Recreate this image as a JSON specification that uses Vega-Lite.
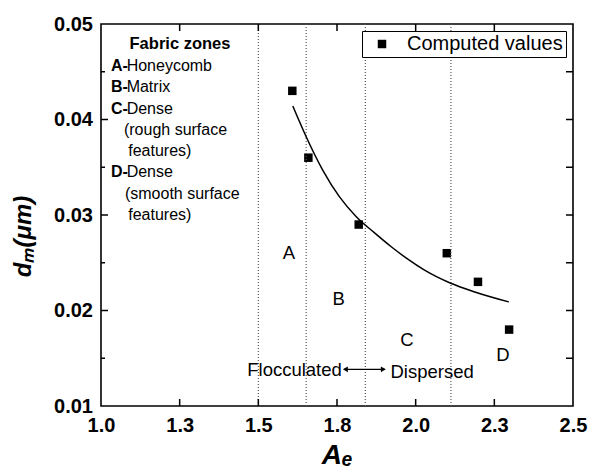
{
  "$schema": "https://vega.github.io/schema/vega-lite/v6.json",
  "width": 472,
  "height": 382,
  "autosize": {"type": "none"},
  "padding": {"left": 101, "top": 24, "right": 18, "bottom": 66},
  "background": "white",
  "config": {
    "view": {"stroke": "black", "strokeWidth": 1.6},
    "font": "Liberation Sans",
    "axis": {
      "grid": false,
      "domain": false,
      "ticks": false,
      "labelColor": "black",
      "labelFont": "Liberation Sans",
      "labelFontSize": 20,
      "labelFontWeight": "bold",
      "labelFlush": false,
      "labelOverlap": false,
      "titleFont": "Liberation Sans",
      "titleColor": "black"
    }
  },
  "datasets": {
    "xTicks": [{"Ae": 1.25}, {"Ae": 1.5}, {"Ae": 1.75}, {"Ae": 2.0}, {"Ae": 2.25}],
    "yMajorTicks": [{"dm": 0.02}, {"dm": 0.03}, {"dm": 0.04}],
    "yMinorTicks": [{"dm": 0.015}, {"dm": 0.025}, {"dm": 0.035}, {"dm": 0.045}]
  },
  "layer": [
    {
      "description": "Computed values, carrying the shared axes and legend",
      "data": {"values": [
        {"Ae": 1.608, "dm": 0.043},
        {"Ae": 1.659, "dm": 0.036},
        {"Ae": 1.819, "dm": 0.029},
        {"Ae": 2.099, "dm": 0.026},
        {"Ae": 2.198, "dm": 0.023},
        {"Ae": 2.297, "dm": 0.018}
      ]},
      "mark": {"type": "square", "size": 72, "opacity": 1},
      "encoding": {
        "x": {"field": "Ae", "type": "quantitative", "scale": {"domain": [1, 2.5], "nice": false, "zero": false},
              "axis": {"orient": "bottom", "values": [1, 1.25, 1.5, 1.75, 2, 2.25, 2.5], "format": ".1f", "labelPadding": 9.5,
                       "title": "Aₑ", "titleFontSize": 28, "titleFontStyle": "italic", "titleFontWeight": "bold", "titleY": 57, "titleBaseline": "alphabetic"}},
        "y": {"field": "dm", "type": "quantitative", "scale": {"domain": [0.01, 0.05], "nice": false, "zero": false},
              "axis": {"orient": "left", "values": [0.01, 0.02, 0.03, 0.04, 0.05], "format": ".2f", "labelPadding": 8.5,
                       "title": "dₘ(μm)", "titleFontSize": 24, "titleFontStyle": "italic", "titleFontWeight": "bold",
                       "titleAngle": 270, "titleAlign": "center", "titleBaseline": "alphabetic", "titleX": -71, "titleY": 212}},
        "color": {"datum": "Computed values", "type": "nominal", "scale": {"range": ["black"]},
                  "legend": {"title": null, "orient": "top-right", "offset": 7, "padding": 3,
                             "strokeColor": "black", "fillColor": "white",
                             "symbolType": "square", "symbolSize": 72, "symbolFillColor": "black", "symbolStrokeWidth": 0,
                             "symbolOffset": 7, "labelOffset": 15,
                             "labelFont": "Liberation Sans", "labelFontSize": 20, "labelColor": "black"}}
      }
    },
    {
      "description": "Fabric zone boundaries",
      "data": {"values": [{"boundary": 1.5}, {"boundary": 1.652}, {"boundary": 1.84}, {"boundary": 2.112}]},
      "mark": {"type": "rule", "color": "#555555", "strokeDash": [1, 2], "strokeWidth": 1.2},
      "encoding": {
        "x": {"field": "boundary", "type": "quantitative"}
      }
    },
    {
      "description": "Inward ticks along the bottom frame",
      "data": {"name": "xTicks"},
      "mark": {"type": "point", "shape": "M0,0V-2", "size": 49, "filled": false, "color": "black", "strokeWidth": 1.5, "opacity": 1},
      "encoding": {
        "x": {"field": "Ae", "type": "quantitative"},
        "y": {"datum": 0.01, "type": "quantitative"}
      }
    },
    {
      "description": "Inward ticks along the top frame",
      "data": {"name": "xTicks"},
      "mark": {"type": "point", "shape": "M0,0V2", "size": 49, "filled": false, "color": "black", "strokeWidth": 1.5, "opacity": 1},
      "encoding": {
        "x": {"field": "Ae", "type": "quantitative"},
        "y": {"datum": 0.05, "type": "quantitative"}
      }
    },
    {
      "description": "Major ticks on the left frame",
      "data": {"name": "yMajorTicks"},
      "mark": {"type": "point", "shape": "M0,0H2", "size": 49, "filled": false, "color": "black", "strokeWidth": 1.5, "opacity": 1},
      "encoding": {
        "x": {"datum": 1.0, "type": "quantitative"},
        "y": {"field": "dm", "type": "quantitative"}
      }
    },
    {
      "description": "Minor ticks on the left frame",
      "data": {"name": "yMinorTicks"},
      "mark": {"type": "point", "shape": "M0,0H2", "size": 16, "filled": false, "color": "black", "strokeWidth": 1.5, "opacity": 1},
      "encoding": {
        "x": {"datum": 1.0, "type": "quantitative"},
        "y": {"field": "dm", "type": "quantitative"}
      }
    },
    {
      "description": "Minor ticks on the right frame",
      "data": {"name": "yMinorTicks"},
      "mark": {"type": "point", "shape": "M0,0H-2", "size": 49, "filled": false, "color": "black", "strokeWidth": 1.5, "opacity": 1},
      "encoding": {
        "x": {"datum": 2.5, "type": "quantitative"},
        "y": {"field": "dm", "type": "quantitative"}
      }
    },
    {
      "description": "Major ticks on the right frame",
      "data": {"name": "yMajorTicks"},
      "mark": {"type": "point", "shape": "M0,0H-2", "size": 49, "filled": false, "color": "black", "strokeWidth": 1.5, "opacity": 1},
      "encoding": {
        "x": {"datum": 2.5, "type": "quantitative"},
        "y": {"field": "dm", "type": "quantitative"}
      }
    },
    {
      "description": "Fitted trend of the computed values",
      "data": {"values": [
        {"Ae": 1.6095, "dm": 0.04141},
        {"Ae": 1.652, "dm": 0.0382},
        {"Ae": 1.7046, "dm": 0.03471},
        {"Ae": 1.7575, "dm": 0.03192},
        {"Ae": 1.8105, "dm": 0.02985},
        {"Ae": 1.8685, "dm": 0.02815},
        {"Ae": 1.9214, "dm": 0.0267},
        {"Ae": 1.974, "dm": 0.0254},
        {"Ae": 2.0269, "dm": 0.02425},
        {"Ae": 2.1116, "dm": 0.02285},
        {"Ae": 2.1854, "dm": 0.02197},
        {"Ae": 2.296, "dm": 0.0209}
      ]},
      "mark": {"type": "line", "color": "black", "strokeWidth": 1.5, "interpolate": "monotone"},
      "encoding": {
        "x": {"field": "Ae", "type": "quantitative"},
        "y": {"field": "dm", "type": "quantitative"}
      }
    },
    {
      "description": "Key heading",
      "data": {"values": [{"label": "Fabric zones", "Ae": 1.251, "dm": 0.04735}]},
      "mark": {"type": "text", "fontSize": 16.5, "fontWeight": "bold", "align": "center", "baseline": "alphabetic", "color": "black"},
      "encoding": {
        "x": {"field": "Ae", "type": "quantitative"},
        "y": {"field": "dm", "type": "quantitative"},
        "text": {"field": "label"}
      }
    },
    {
      "description": "Key zone letters",
      "data": {"values": [
        {"label": "A-", "Ae": 1.0317, "dm": 0.04508},
        {"label": "B-", "Ae": 1.0317, "dm": 0.04285},
        {"label": "C-", "Ae": 1.0317, "dm": 0.04062},
        {"label": "D-", "Ae": 1.0317, "dm": 0.03393}
      ]},
      "mark": {"type": "text", "fontSize": 16, "fontWeight": "bold", "align": "left", "baseline": "alphabetic", "color": "black"},
      "encoding": {
        "x": {"field": "Ae", "type": "quantitative"},
        "y": {"field": "dm", "type": "quantitative"},
        "text": {"field": "label"}
      }
    },
    {
      "description": "Key zone descriptions",
      "data": {"values": [
        {"label": "Honeycomb", "Ae": 1.0815, "dm": 0.04508},
        {"label": "Matrix", "Ae": 1.0815, "dm": 0.04285},
        {"label": "Dense", "Ae": 1.0815, "dm": 0.04062},
        {"label": "(rough surface", "Ae": 1.0729, "dm": 0.03839},
        {"label": "features)", "Ae": 1.0865, "dm": 0.03616},
        {"label": "Dense", "Ae": 1.0815, "dm": 0.03393},
        {"label": "(smooth surface", "Ae": 1.0761, "dm": 0.0317},
        {"label": "features)", "Ae": 1.0865, "dm": 0.02947}
      ]},
      "mark": {"type": "text", "fontSize": 16, "align": "left", "baseline": "alphabetic", "color": "black"},
      "encoding": {
        "x": {"field": "Ae", "type": "quantitative"},
        "y": {"field": "dm", "type": "quantitative"},
        "text": {"field": "label"}
      }
    },
    {
      "description": "Zone letters on the plot",
      "data": {"values": [
        {"label": "A", "Ae": 1.597, "dm": 0.02536},
        {"label": "B", "Ae": 1.755, "dm": 0.02058},
        {"label": "C", "Ae": 1.972, "dm": 0.01628},
        {"label": "D", "Ae": 2.277, "dm": 0.01475}
      ]},
      "mark": {"type": "text", "fontSize": 18.5, "align": "center", "baseline": "alphabetic", "color": "black"},
      "encoding": {
        "x": {"field": "Ae", "type": "quantitative"},
        "y": {"field": "dm", "type": "quantitative"},
        "text": {"field": "label"}
      }
    },
    {
      "description": "Fabric state labels",
      "data": {"values": [
        {"label": "Flocculated", "Ae": 1.615, "dm": 0.01314},
        {"label": "Dispersed", "Ae": 2.0523, "dm": 0.0129}
      ]},
      "mark": {"type": "text", "fontSize": 18.5, "align": "center", "baseline": "alphabetic", "color": "black"},
      "encoding": {
        "x": {"field": "Ae", "type": "quantitative"},
        "y": {"field": "dm", "type": "quantitative"},
        "text": {"field": "label"}
      }
    },
    {
      "description": "Double arrow shaft between the fabric states",
      "data": {"values": [{"from": 1.772, "to": 1.9016, "dm": 0.01384}]},
      "mark": {"type": "rule", "color": "black", "strokeWidth": 1.1},
      "encoding": {
        "x": {"field": "from", "type": "quantitative"},
        "x2": {"field": "to"},
        "y": {"field": "dm", "type": "quantitative"}
      }
    },
    {
      "description": "Arrow heads",
      "data": {"values": [
        {"end": "left", "Ae": 1.7765, "dm": 0.01384},
        {"end": "right", "Ae": 1.8972, "dm": 0.01384}
      ]},
      "mark": {"type": "point", "filled": true, "color": "black", "opacity": 1, "size": 32},
      "encoding": {
        "x": {"field": "Ae", "type": "quantitative"},
        "y": {"field": "dm", "type": "quantitative"},
        "shape": {"field": "end", "type": "nominal", "scale": {"domain": ["left", "right"], "range": ["triangle-left", "triangle-right"]}, "legend": null}
      }
    }
  ]
}
